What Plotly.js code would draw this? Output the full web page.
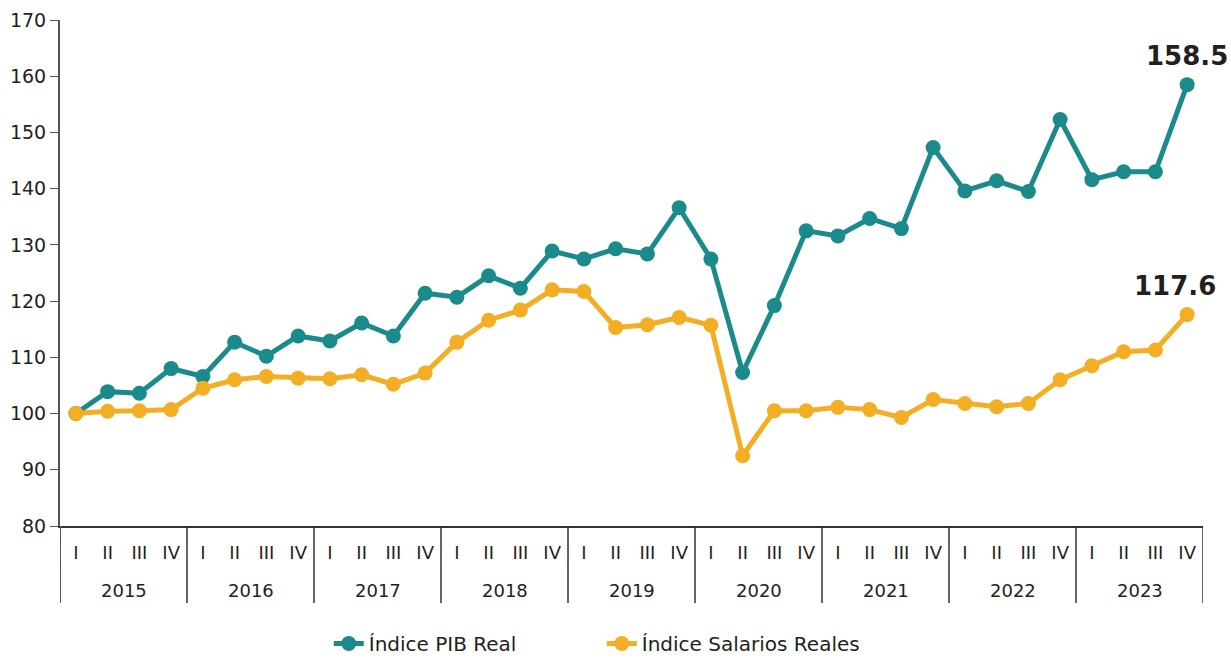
<!DOCTYPE html>
<html>
<head>
<meta charset="utf-8">
<script src="https://cdn.plot.ly/plotly-3.0.1.min.js"></script>
<style>html,body{margin:0;padding:0;background:#fff}#chart{width:1231px;height:658px}</style>
</head>
<body>
<div id="chart"></div>
<script>
const years = ["2015","2016","2017","2018","2019","2020","2021","2022","2023"];
const quarters = ["I","II","III","IV"];
const pibReal = [100.0,103.9,103.6,108.0, 106.6,112.7,110.2,113.8, 112.9,116.1,113.8,121.4,
                 120.7,124.5,122.3,128.9, 127.5,129.3,128.4,136.6, 127.5,107.3,119.2,132.5,
                 131.6,134.7,132.9,147.3, 139.6,141.4,139.5,152.3, 141.6,143.0,143.0,158.5];
const salariosReales = [100.0,100.4,100.5,100.7, 104.5,106.0,106.6,106.3, 106.2,106.9,105.2,107.2,
                 112.7,116.6,118.4,122.0, 121.7,115.3,115.8,117.1, 115.7,92.5,100.5,100.5,
                 101.1,100.7,99.3,102.5, 101.8,101.2,101.8,106.0, 108.5,111.0,111.3,117.6];
const seriesNames = ["Índice PIB Real","Índice Salarios Reales"];

// category keys (one per quarter) and their tick texts
const xKeys = [], xQuarterText = [];
years.forEach(y => quarters.forEach(q => { xKeys.push(y + " " + q); xQuarterText.push(q); }));

const FONT = "DejaVu Sans, sans-serif";
const TXT = "#231f20";
const teal = "#1b8a8a", orange = "#f4ae24";
const nQ = quarters.length;

const traces = [
  {x:xKeys, y:pibReal, name:seriesNames[0], type:"scatter", mode:"lines+markers",
   line:{color:teal,width:5}, marker:{color:teal,size:15}, cliponaxis:false},
  {x:xKeys, y:salariosReales, name:seriesNames[1], type:"scatter", mode:"lines+markers",
   line:{color:orange,width:5}, marker:{color:orange,size:15}, cliponaxis:false}
];

// year labels centred under each group of quarters
const annotations = years.map((y,k) => ({
  xref:"x", yref:"paper", x:k*nQ + (nQ-1)/2, y:-0.1265, yanchor:"middle", xanchor:"center",
  text:y, showarrow:false, font:{family:FONT,size:18,color:TXT}
}));
// end-value labels
const last = xKeys.length - 1;
annotations.push({xref:"x", yref:"y", x:xKeys[last], y:pibReal[last], text:pibReal[last].toFixed(1),
  showarrow:false, yanchor:"bottom", xanchor:"center", yshift:12, xshift:0,
  font:{family:FONT,size:26,color:TXT,weight:700}});
annotations.push({xref:"x", yref:"y", x:xKeys[last], y:salariosReales[last], text:salariosReales[last].toFixed(1),
  showarrow:false, yanchor:"bottom", xanchor:"center", yshift:12, xshift:-12,
  font:{family:FONT,size:26,color:TXT,weight:700}});

// year dividers
const shapes = [];
for (let k = 0; k <= years.length; k++) {
  shapes.push({type:"line", xref:"x", yref:"paper", x0:k*nQ-0.5, x1:k*nQ-0.5, y0:0, y1:-0.152,
               line:{color:k===0?"#555":"#333", width:k===0?2:1.5}});
}

const layout = {
  width:1231, height:658,
  margin:{l:60,r:28,t:20,b:132},
  paper_bgcolor:"#fff", plot_bgcolor:"#fff",
  font:{family:FONT,size:18,color:TXT},
  showlegend:true,
  legend:{orientation:"h",x:0.474,xanchor:"center",yref:"container",y:0.022,yanchor:"middle",
          entrywidth:228, entrywidthmode:"pixels",
          font:{family:FONT,size:20,color:TXT}},
  xaxis:{type:"category", range:[-0.5,35.5], automargin:false, showgrid:false, zeroline:false,
         showline:true, linecolor:"#333", linewidth:1.5, ticks:"",
         tickmode:"array", tickvals:xKeys, ticktext:xQuarterText, tickangle:0,
         ticklabelstandoff:10,
         tickfont:{family:FONT,size:18,color:TXT}},
  yaxis:{range:[80,170], dtick:10, automargin:false, showgrid:false, zeroline:false,
         showline:true, linecolor:"#555", linewidth:2, ticks:"outside", ticklen:8, tickcolor:"#555",
         tickfont:{family:FONT,size:19,color:TXT}},
  annotations:annotations,
  shapes:shapes
};
Plotly.newPlot("chart", traces, layout, {displayModeBar:false, staticPlot:true});
</script>
</body>
</html>
